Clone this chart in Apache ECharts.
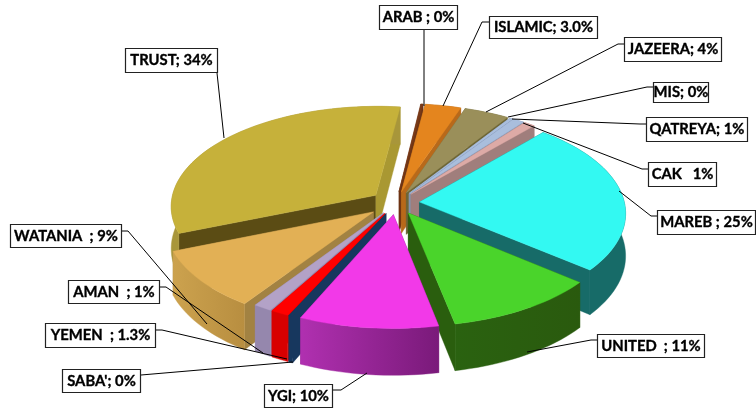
<!DOCTYPE html>
<html><head><meta charset="utf-8">
<style>html,body{margin:0;padding:0;background:#fff}#c{width:756px;height:409px}</style>
<script src="https://cdn.jsdelivr.net/npm/echarts@6/dist/echarts.min.js"></script>
</head><body><div id="c"></div>
<script>
// ---- data, clockwise from ARAB
const categories = ['ARAB','ISLAMIC','JAZEERA','MIS','QATREYA','CAK','MAREB','UNITED','YGI',"SABA'",'YEMEN','AMAN','WATANIA','TRUST'];
const shares = [0.2,3.2,4,0.3,1,1,24.6,11,10,0.3,1.3,1.3,9.5,33.3];
const labelTexts = ['ARAB ; 0%','ISLAMIC; 3.0%','JAZEERA; 4%','MIS; 0%','QATREYA; 1%','CAK   1%','MAREB ; 25%','UNITED  ; 11%','YGI; 10%',"SABA'; 0%",'YEMEN  ; 1.3%','AMAN  ; 1%','WATANIA  ; 9%','TRUST; 34%'];

// ---- styles
const topColors  = ['#7A3A18','#E4851E','#9A8F5A','#A9BEDD','#A9BEDD','#DDAAA6','#33F9F2','#4AD42B','#F239E8','#17375E','#FF0000','#B3A2C7','#E2B055','#C6B13A'];
const wallColors = [['#6E3414','#6E3414'],['#B8691A','#B8691A'],['#6E6636','#6E6636'],['#8496B2','#8496B2'],['#8496B2','#8496B2'],['#A07E7C','#A07E7C'],['#176B68','#176B68'],['#2A6210','#2A5A0E'],['#B030B0','#7A1A7A'],['#17375E','#17375E'],['#D80000','#D80000'],['#9587AD','#9587AD'],['#CCA24E','#B88E40'],['#A8963A','#A8963A']];
const cutStart   = ['#6E3414','#B8691A','#6E6636','#8496B2','#8496B2','#A07E7C','#176B68','#2A5E0E','#8A1E8A','#17375E','#D80000','#9587AD','#A28242','#5B4C14'];
const cutEnd     = ['#6E3414','#B8691A','#6E6636','#8496B2','#8496B2','#A07E7C','#176B68','#2A5E0E','#8A1E8A','#17375E','#D80000','#9587AD','#A28242','#A99832'];
const explodes   = [.115,.115,.115,.115,.115,.115,.115,.115,.115,.115,.115,.115,.14,.125];
const drawOrder  = [13,0,1,2,3,4,5,6,12,11,10,9,7,8];

// ---- projection of the tilted pie
const CX=396, CY=203, RX=205, RY=101, PERSP=0.103, DEPTH=42, START_DEG=7;
const rad=d=>d*Math.PI/180;
function proj(u,v,z){const s=1+PERSP*v;return [CX+RX*u*s, CY+RY*v*s+z*DEPTH*s];}

// ---- label layout: box [x1,y1,x2,y2], leader polyline
const boxes = [[379,5,458,30],[489,16,598,39],[624,37,722,62],[653,82,709,103],[646,117,748,142],[648,162,717,187],[657,210,756,235],[597,334,705,358],[264,384,333,408],[62,369,141,393],[45,323,156,348],[68,280,160,304],[10,224,122,248],[125,48,218,73]];
const leaders = [
 [[424,30],[424,106]],
 [[489,22],[482,22],[443,106]],
 [[624,44],[618,44],[486,112]],
 [[653,87],[647,87],[508,117]],
 [[646,124],[640,124],[512,119]],
 [[648,169],[642,169],[523,123]],
 [[657,216],[651,216],[619,191]],
 [[597,340],[591,340],[527,352]],
 [[333,390],[341,390],[367,373]],
 [[141,375],[293,362]],
 [[156,330],[162,330],[287,359]],
 [[160,287],[166,287],[263,353]],
 [[122,231],[128,231],[207,324]],
 [[217,73],[224,138]]
];

const total = shares.reduce((a,b)=>a+b,0);
const startDeg=[]; let acc=START_DEG;
shares.forEach(s=>{startDeg.push(acc);acc+=s/total*360;});

function renderSlice(params,api){
  const i=api.value(0), a0=api.value(1), span=api.value(2);
  const mid=rad(a0+span/2), ou=explodes[i]*Math.sin(mid), ov=-explodes[i]*Math.cos(mid);
  const pt=(deg,r,z)=>{const t=rad(deg);return proj(ou+r*Math.sin(t),ov-r*Math.cos(t),z);};
  const n=Math.max(2,Math.ceil(span/2));
  const arcTop=[],arcBot=[];
  for(let k=0;k<=n;k++){const d=a0+span*k/n;arcTop.push(pt(d,1,0));arcBot.push(pt(d,1,1));}
  const a=pt(a0,0,0),aB=pt(a0,0,1);
  const wall=arcTop.concat(arcBot.slice().reverse());
  const grad=new echarts.graphic.LinearGradient(0,0,1,0,[{offset:0,color:wallColors[i][0]},{offset:1,color:wallColors[i][1]}]);
  const poly=(points,fill)=>({type:'polygon',shape:{points},style:{fill,stroke:fill,lineWidth:0.4}});
  return {type:'group',children:[
    poly([a,arcTop[0],arcBot[0],aB],cutStart[i]),
    poly([a,arcTop[n],arcBot[n],aB],cutEnd[i]),
    poly(wall,grad),
    poly([a].concat(arcTop),topColors[i])
  ]};
}

const chart=echarts.init(document.getElementById('c'),null,{renderer:'canvas'});
const FONT='bold 14.8px Lato, "Open Sans", sans-serif';
const graphics=[];
categories.forEach((c,i)=>{
  const b=boxes[i];
  graphics.push({type:'polyline',z:20,silent:true,shape:{points:leaders[i]},style:{stroke:'#000',lineWidth:1,fill:null}});
  graphics.push({type:'rect',z:21,silent:true,shape:{x:b[0]+.5,y:b[1]+.5,width:b[2]-b[0]-1,height:b[3]-b[1]-1},style:{fill:'#fff',stroke:'#222',lineWidth:1.2}});
  graphics.push({type:'text',z:22,silent:true,x:(b[0]+b[2])/2,y:(b[1]+b[3])/2,style:{text:labelTexts[i],font:FONT,fill:'#000',stroke:'#000',lineWidth:0.35,align:'center',verticalAlign:'middle'}});
});
chart.setOption({
  animation:false,
  backgroundColor:'#fff',
  graphic:{elements:graphics},
  series:[{type:'custom',coordinateSystem:'none',silent:true,renderItem:renderSlice,
    data:drawOrder.map(i=>[i,startDeg[i],shares[i]/total*360])}]
});
</script></body></html>
